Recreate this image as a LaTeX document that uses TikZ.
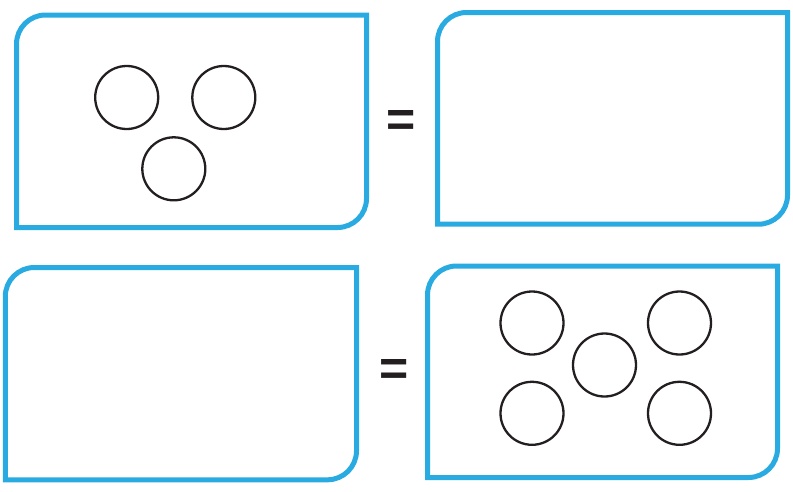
\documentclass[tikz,border=0pt]{standalone}
\usepackage{fontspec}
\setmainfont{Liberation Sans}
\definecolor{boxblue}{HTML}{29ABE2}
\definecolor{inkdark}{HTML}{231F20}
\newcommand{\halfroundbox}[4]{%
  \draw[boxline] (#1,{-#4}) -- (#1,{-#2-29}) arc[start angle=180,end angle=90,radius=29]
    -- (#3,{-#2}) -- (#3,{-#4+29}) arc[start angle=0,end angle=-90,radius=29] -- cycle;}
\begin{document}
\begin{tikzpicture}[x=1pt,y=1pt,
  boxline/.style={draw=boxblue,line width=5pt},
  ring/.style={circle,draw=inkdark,line width=2.3pt,minimum size=63pt,inner sep=0pt},
  eqsign/.style={inner sep=0pt,text=inkdark,font=\fontsize{50}{50}\selectfont\bfseries}]
\useasboundingbox (0,0) rectangle (793,-491);
% boxes
\halfroundbox{16.5}{15}{366.5}{227.5}
\halfroundbox{437.5}{12.5}{787.5}{224.2}
\halfroundbox{5.3}{267.5}{356.5}{479.8}
\halfroundbox{427.5}{266}{777.5}{477.5}
% circles top-left
\node[ring] (c1) at (126.7,-97.5) {};
\node[ring] (c2) at (223.8,-97.5) {};
\node[ring] (c3) at (173.8,-168.8) {};
% circles bottom-right
\node[ring] (d1) at (532,-323) {};
\node[ring] (d2) at (679.5,-323) {};
\node[ring] (d3) at (604.5,-365) {};
\node[ring] (d4) at (532,-413.3) {};
\node[ring] (d5) at (679.5,-413.3) {};
% equals signs
\node[eqsign] (eq1) at (401.5,-123.7) {=};
\node[eqsign] (eq2) at (394.3,-372.5) {=};
\end{tikzpicture}
\end{document}
